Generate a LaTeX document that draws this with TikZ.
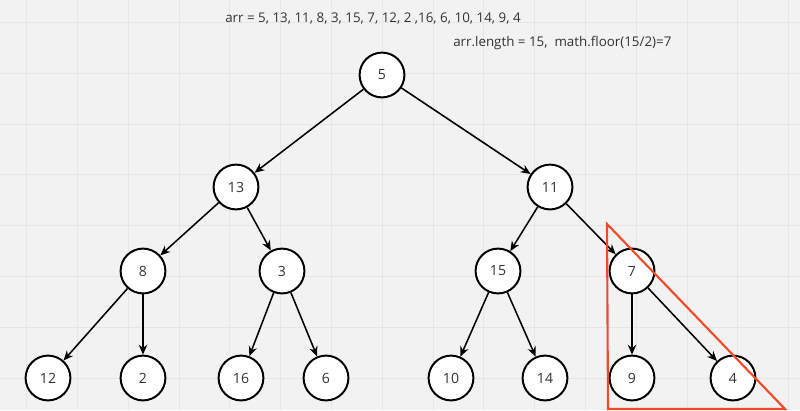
\documentclass[tikz,border=0pt]{standalone}
\usepackage{fontspec}
\setmainfont{Open Sans}
\usetikzlibrary{arrows.meta}
\definecolor{bgcol}{HTML}{F2F2F2}
\definecolor{gridcol}{HTML}{E6E6E6}
\definecolor{txtcol}{HTML}{333333}
\definecolor{markred}{HTML}{F04A2A}
\tikzset{
  heapnode/.style={draw, circle, line width=1.4pt, fill=white, minimum size=1.12cm, inner sep=0pt, text=txtcol, font=\fontsize{10}{12}\selectfont},
  heaparrow/.style={-{Stealth[length=7pt,width=6pt]}, line width=1.1pt},
  note/.style={anchor=base west, inner sep=0pt, text=txtcol, font=\fontsize{9.5}{11}\selectfont}
}
\begin{document}
\begin{tikzpicture}[x=0.025cm, y=-0.025cm]
\fill[bgcol] (0,0) rectangle (800,410);
\useasboundingbox (0,0) rectangle (800,410);
\foreach \gx in {0,...,15} \draw[gridcol, line width=0.5pt] ({26.5+50.8*\gx},0) -- ({26.5+50.8*\gx},410);
\foreach \gy in {0,...,7} \draw[gridcol, line width=0.5pt] (0,{378-50.8*\gy}) -- (800,{378-50.8*\gy});
\node[note] (arr) at (225,22) {arr = 5, 13, 11, 8, 3, 15, 7, 12, 2 ,16, 6, 10, 14, 9, 4};
\node[note] (len) at (453,46) {arr.length = 15,\ \ math.floor(15/2)=7};
\node[heapnode] (n5) at (382,75) {5};
\node[heapnode] (n13) at (236,187) {13};
\node[heapnode] (n11) at (550,187) {11};
\node[heapnode] (n8) at (143,271) {8};
\node[heapnode] (n3) at (282,271) {3};
\node[heapnode] (n15) at (498,271) {15};
\node[heapnode] (n7) at (632,271) {7};
\node[heapnode] (n12) at (48,378) {12};
\node[heapnode] (n2) at (143,378) {2};
\node[heapnode] (n16) at (241,378) {16};
\node[heapnode] (n6) at (326,378) {6};
\node[heapnode] (n10) at (451,378) {10};
\node[heapnode] (n14) at (545,378) {14};
\node[heapnode] (n9) at (632,378) {9};
\node[heapnode] (n4) at (733,378) {4};
\draw[heaparrow] (n5) -- (n13);
\draw[heaparrow] (n5) -- (n11);
\draw[heaparrow] (n13) -- (n8);
\draw[heaparrow] (n13) -- (n3);
\draw[heaparrow] (n11) -- (n15);
\draw[heaparrow] (n11) -- (n7);
\draw[heaparrow] (n8) -- (n12);
\draw[heaparrow] (n8) -- (n2);
\draw[heaparrow] (n3) -- (n16);
\draw[heaparrow] (n3) -- (n6);
\draw[heaparrow] (n15) -- (n10);
\draw[heaparrow] (n15) -- (n14);
\draw[heaparrow] (n7) -- (n9);
\draw[heaparrow] (n7) -- (n4);
% red marker triangle
\draw[markred, line width=1.5pt] (607,224) -- (608,409) -- (785,409) -- cycle;
\end{tikzpicture}
\end{document}
